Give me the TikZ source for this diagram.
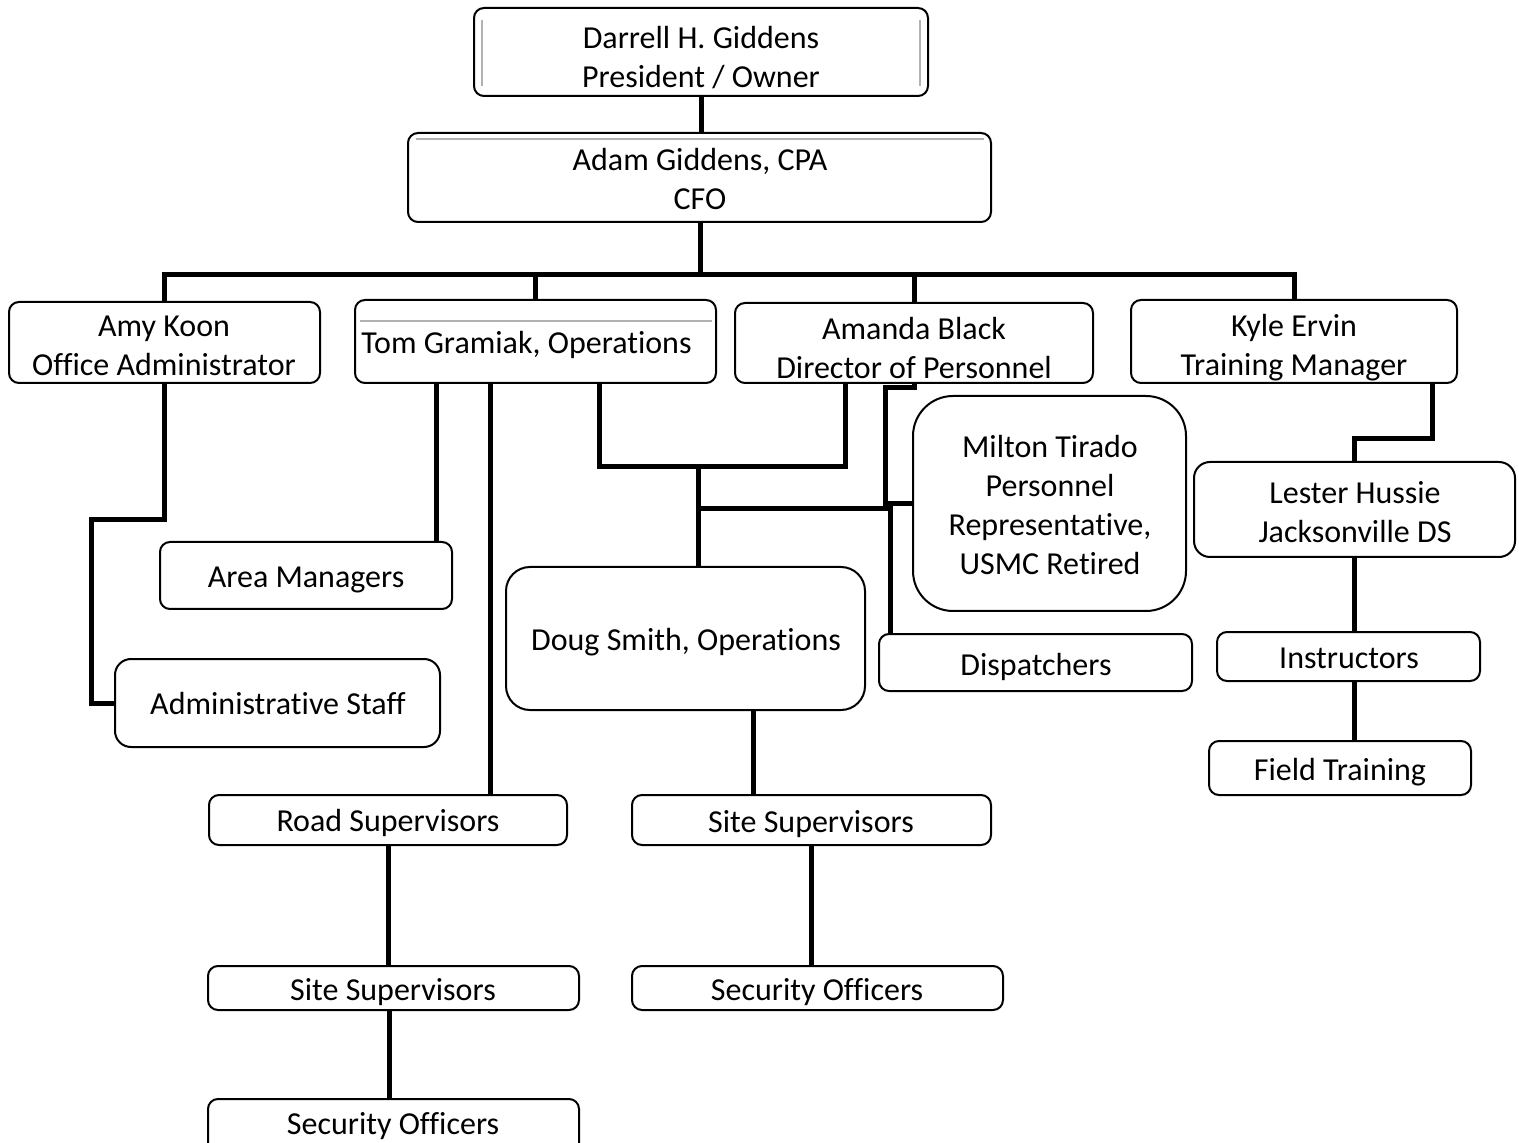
\documentclass[tikz,border=0pt]{standalone}
\usepackage{fontspec}
\setmainfont{Carlito}[Ligatures=NoCommon]
\usetikzlibrary{fit,calc}
\begin{document}
\begin{tikzpicture}[x=0.5pt,y=-0.5pt,
  box/.style={draw=black,line width=1pt,rounded corners=5pt,inner sep=0pt,fill=none},
  txt/.style={font=\fontsize{16}{19.5}\selectfont,align=center,inner sep=0pt,yshift=-1.5pt},
  conn/.style={draw=black,line width=2.5pt},
  shade/.style={draw=black!30,line width=0.6pt}]
\useasboundingbox (0,0) rectangle (1519,1143);
% boxes
\node[box,fit={(474,8) (928,96)}] (darrell) {};
\node[box,fit={(408,133) (991,222)}] (adam) {};
\node[box,fit={(9,302) (320,383)}] (amy) {};
\node[box,fit={(355,300) (716,383)}] (tom) {};
\node[box,fit={(735,303) (1093,383)}] (amanda) {};
\node[box,fit={(1131,300) (1457,383)}] (kyle) {};
\node[box,rounded corners=20pt,fit={(913,396) (1186,611)}] (milton) {};
\node[box,fit={(879,634) (1192,691)}] (disp) {};
\node[box,rounded corners=12pt,fit={(506,567) (865,710)}] (doug) {};
\node[box,fit={(160,542) (452,609)}] (area) {};
\node[box,rounded corners=8pt,fit={(115,659) (440,747)}] (admin) {};
\node[box,fit={(209,795) (567,845)}] (road) {};
\node[box,fit={(208,966) (579,1010)}] (siteL) {};
\node[box,fit={(208,1099) (579,1160)}] (secL) {};
\node[box,fit={(632,795) (991,845)}] (siteR) {};
\node[box,fit={(632,966) (1003,1010)}] (secR) {};
\node[box,rounded corners=8pt,fit={(1194,462) (1515,557)}] (lester) {};
\node[box,fit={(1217,632) (1480,681)}] (instr) {};
\node[box,fit={(1209,741) (1471,795)}] (field) {};
% faint inner lines
\draw[shade] (482,20) -- (482,86);
\draw[shade] (920,20) -- (920,86);
\draw[shade] (416,139) -- (984,139);
\draw[shade] (360,321) -- (712,321);
% texts
\node[txt] (darrell-t) at (701,57.5) {\strut Darrell H. Giddens\\\strut President / Owner};
\node[txt] (adam-t) at (700,179.5) {\strut Adam Giddens, CPA\\\strut CFO};
\node[txt] (amy-t) at (164,345) {\strut Amy Koon\\\strut Office Administrator};
\node[txt,anchor=west] (tom-t) at (361,343) {\strut Tom Gramiak, Operations};
\node[txt] (amanda-t) at (914,348.5) {\strut Amanda Black\\\strut Director of Personnel};
\node[txt] (kyle-t) at (1294,345.5) {\strut Kyle Ervin\\\strut Training Manager};
\node[txt] (milton-t) at (1050,505) {\strut Milton Tirado\\\strut Personnel\\\strut Representative,\\\strut USMC Retired};
\node[txt] (area-t) at (306,577) {\strut Area Managers};
\node[txt] (admin-t) at (278,704) {\strut Administrative Staff};
\node[txt] (doug-t) at (686,640) {\strut Doug Smith, Operations};
\node[txt] (disp-t) at (1036,665) {\strut Dispatchers};
\node[txt] (lester-t) at (1355,512.5) {\strut Lester Hussie\\\strut Jacksonville DS};
\node[txt] (instr-t) at (1349,658) {\strut Instructors};
\node[txt] (field-t) at (1340,770) {\strut Field Training};
\node[txt] (road-t) at (388,821) {\strut Road Supervisors};
\node[txt] (siteL-t) at (393,990) {\strut Site Supervisors};
\node[txt] (secL-t) at (393,1124) {\strut Security Officers};
\node[txt] (siteR-t) at (811,822) {\strut Site Supervisors};
\node[txt] (secR-t) at (817,990) {\strut Security Officers};
% junction coordinates
\coordinate (bus) at (700,275);
\coordinate (amyj) at (91,520);
\coordinate (j1) at (698,467);
\coordinate (j2) at (698,509);
\coordinate (mj) at (885,388);
% connectors
\draw[conn] (darrell.south) -- (darrell.south |- adam.north);
\draw[conn] (adam.south -| bus) -- (bus);
\draw[conn] (amy.north) |- (bus) -| (kyle.north);
\draw[conn] (tom.north) -- (tom.north |- bus);
\draw[conn] (amanda.north) -- (amanda.north |- bus);
\draw[conn] (amy.south) |- (amyj) |- (admin.west);
\draw[conn] ([xshift=-8.5pt]area.north east) -- ([xshift=-8.5pt]area.north east |- tom.south);
\draw[conn] ([xshift=51pt]road.north) -- ([xshift=51pt]road.north |- tom.south);
\draw[conn] ([xshift=31.75pt]tom.south) |- (j1) -| ([xshift=-34.5pt]amanda.south);
\draw[conn] (j1) -- (j1 |- doug.north);
\draw[conn] (j2) -| ([xshift=-72.75pt]disp.north);
\draw[conn] (amanda.south) |- (mj) |- (milton.west);
\draw[conn] ([xshift=-29.25pt]siteR.north) -- ([xshift=-29.25pt]siteR.north |- doug.south);
\draw[conn] (siteR.south) -- (siteR.south |- secR.north);
\draw[conn] (road.south) -- (road.south |- siteL.north);
\draw[conn] ([xshift=-2pt]siteL.south) -- ([xshift=-2pt]siteL.south |- secL.north);
\draw[conn] ([xshift=69pt]kyle.south) -- ++(0,55) -| (lester.north);
\draw[conn] (lester.south) -- (lester.south |- instr.north);
\draw[conn] (lester.south |- instr.south) -- (lester.south |- field.north);
\end{tikzpicture}
\end{document}
